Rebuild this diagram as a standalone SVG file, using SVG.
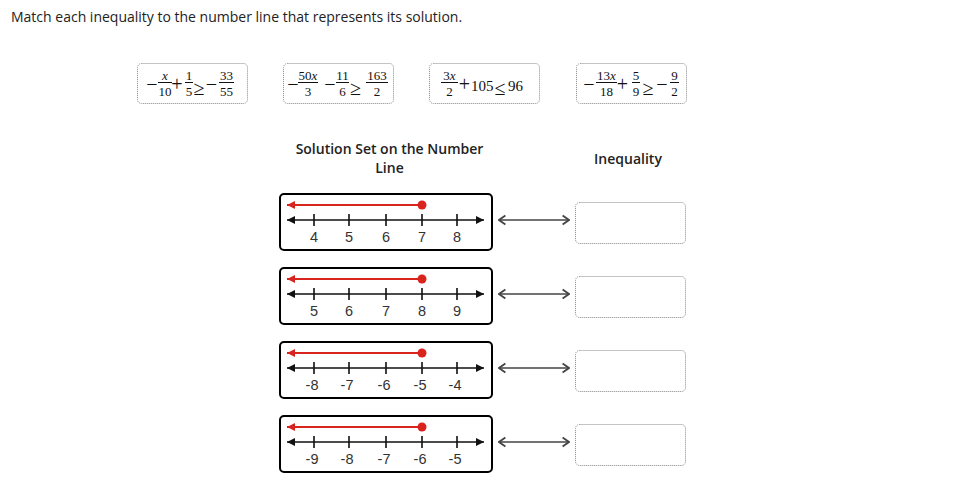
<svg xmlns="http://www.w3.org/2000/svg" width="965" height="491" viewBox="0 0 965 491">
<style>
.t{font-family:"Open Sans","Liberation Sans",sans-serif;fill:#222}
.h{font-family:"Open Sans","Liberation Sans",sans-serif;font-weight:600;font-size:14px;fill:#222;text-anchor:middle}
.dot{fill:#fff;stroke:#888;stroke-width:1;stroke-dasharray:1 1}
.op{font-family:"Liberation Serif","DejaVu Serif",serif;font-size:20px;fill:#111;text-anchor:middle}
.rel{font-family:"Liberation Serif","DejaVu Serif",serif;font-size:20px;fill:#111;text-anchor:middle}
.n{font-family:"Liberation Serif",serif;font-size:15px;fill:#111}
.fr{font-family:"Liberation Serif",serif;font-size:13px;fill:#111;text-anchor:middle}
.v{font-style:italic}
.bar{stroke:#111;stroke-width:1}
.nlbox{fill:#fff;stroke:#000;stroke-width:2}
.axis{stroke:#111;stroke-width:1.6}
.tick{stroke:#111;stroke-width:1.6}
.sol{stroke:#d9231d;stroke-width:2}
.lab{font-family:"Liberation Sans",sans-serif;font-size:14.5px;fill:#333;text-anchor:middle}
.conn{stroke:#444;stroke-width:1.6;fill:none}
</style>
<defs>
<marker id="ab" viewBox="0 0 10 10" refX="10" refY="5" markerWidth="8" markerHeight="8" markerUnits="userSpaceOnUse" orient="auto-start-reverse"><path d="M0,0 L10,5 L0,10 z" fill="#111"/></marker>
<marker id="ar" viewBox="0 0 10 10" refX="10" refY="5" markerWidth="8" markerHeight="8" markerUnits="userSpaceOnUse" orient="auto-start-reverse"><path d="M0,0 L10,5 L0,10 z" fill="#d9231d"/></marker>
<marker id="chev" viewBox="0 0 10 14" refX="9" refY="7" markerWidth="8" markerHeight="12" markerUnits="userSpaceOnUse" orient="auto-start-reverse"><path d="M1,1.5 L9,7 L1,12.5" fill="none" stroke="#444" stroke-width="2.2"/></marker>
</defs>
<rect width="965" height="491" fill="#fff"/>

<text class="t" x="11" y="22" font-size="14">Match each inequality to the number line that represents its solution.</text>

<!-- inequality cards -->
<g id="ineq1">
<rect class="dot" x="137.5" y="63.5" width="110" height="40" rx="4"/>
<text class="op" x="152" y="90.5">−</text>
<text class="fr" x="165" y="80"><tspan class="v">x</tspan></text><line class="bar" x1="158" y1="82.5" x2="172" y2="82.5"/><text class="fr" x="165" y="95.5">10</text>
<text class="op" x="177" y="90.5">+</text>
<text class="fr" x="189" y="80">1</text><line class="bar" x1="185" y1="82.5" x2="193" y2="82.5"/><text class="fr" x="189" y="95.5">5</text>
<text class="rel" x="199" y="95">≥</text>
<text class="op" x="211.5" y="90.5">−</text>
<text class="fr" x="226.5" y="80">33</text><line class="bar" x1="219" y1="82.5" x2="234" y2="82.5"/><text class="fr" x="226.5" y="95.5">55</text>
</g>

<g id="ineq2">
<rect class="dot" x="283.5" y="63.5" width="110" height="40" rx="4"/>
<text class="op" x="293" y="90.5">−</text>
<text class="fr" x="308" y="80">50<tspan class="v">x</tspan></text><line class="bar" x1="298" y1="82.5" x2="318" y2="82.5"/><text class="fr" x="308" y="95.5">3</text>
<text class="op" x="330" y="90.5">−</text>
<text class="fr" x="342.5" y="80">11</text><line class="bar" x1="336" y1="82.5" x2="349" y2="82.5"/><text class="fr" x="342.5" y="95.5">6</text>
<text class="rel" x="355.5" y="95">≥</text>
<text class="fr" x="377" y="80">163</text><line class="bar" x1="366" y1="82.5" x2="388" y2="82.5"/><text class="fr" x="377" y="95.5">2</text>
</g>

<g id="ineq3">
<rect class="dot" x="429.5" y="63.5" width="110" height="40" rx="4"/>
<text class="fr" x="449.5" y="80">3<tspan class="v">x</tspan></text><line class="bar" x1="441" y1="82.5" x2="458" y2="82.5"/><text class="fr" x="449.5" y="95.5">2</text>
<text class="op" x="464.5" y="90.5">+</text>
<text class="n" x="471" y="90.5">105</text>
<text class="rel" x="500" y="95">≤</text>
<text class="n" x="508" y="90.5">96</text>
</g>

<g id="ineq4">
<rect class="dot" x="576.5" y="63.5" width="110" height="40" rx="4"/>
<text class="op" x="589" y="90.5">−</text>
<text class="fr" x="606.5" y="80">13<tspan class="v">x</tspan></text><line class="bar" x1="596" y1="82.5" x2="617" y2="82.5"/><text class="fr" x="606.5" y="95.5">18</text>
<text class="op" x="622.5" y="90.5">+</text>
<text class="fr" x="636" y="80">5</text><line class="bar" x1="632" y1="82.5" x2="640" y2="82.5"/><text class="fr" x="636" y="95.5">9</text>
<text class="rel" x="648" y="95">≥</text>
<text class="op" x="662" y="90.5">−</text>
<text class="fr" x="674.5" y="80">9</text><line class="bar" x1="670" y1="82.5" x2="679" y2="82.5"/><text class="fr" x="674.5" y="95.5">2</text>
</g>

<!-- headers -->
<text class="h" x="389.5" y="154">Solution Set on the Number</text>
<text class="h" x="389.5" y="173">Line</text>
<text class="h" x="628" y="164">Inequality</text>

<!-- number lines -->
<g id="numline1">
<rect class="nlbox" x="280" y="194" width="212" height="56" rx="4"/>
<line class="sol" x1="287" y1="205" x2="422" y2="205" marker-start="url(#ar)"/>
<circle cx="422" cy="205" r="4.5" fill="#d9231d"/>
<line class="axis" x1="287" y1="220" x2="484" y2="220" marker-start="url(#ab)" marker-end="url(#ab)"/>
<path class="tick" d="M314,214V226M349,214V226M386,214V226M422,214V226M457,214V226"/>
<text class="lab" x="314" y="242">4</text><text class="lab" x="349" y="242">5</text><text class="lab" x="386" y="242">6</text><text class="lab" x="422" y="242">7</text><text class="lab" x="457" y="242">8</text>
</g>

<g id="numline2">
<rect class="nlbox" x="280" y="268" width="212" height="56" rx="4"/>
<line class="sol" x1="287" y1="279" x2="422" y2="279" marker-start="url(#ar)"/>
<circle cx="422" cy="279" r="4.5" fill="#d9231d"/>
<line class="axis" x1="287" y1="294" x2="484" y2="294" marker-start="url(#ab)" marker-end="url(#ab)"/>
<path class="tick" d="M314,288V300M349,288V300M386,288V300M422,288V300M457,288V300"/>
<text class="lab" x="314" y="316">5</text><text class="lab" x="349" y="316">6</text><text class="lab" x="386" y="316">7</text><text class="lab" x="422" y="316">8</text><text class="lab" x="457" y="316">9</text>
</g>

<g id="numline3">
<rect class="nlbox" x="280" y="342" width="212" height="56" rx="4"/>
<line class="sol" x1="287" y1="353" x2="422" y2="353" marker-start="url(#ar)"/>
<circle cx="422" cy="353" r="4.5" fill="#d9231d"/>
<line class="axis" x1="287" y1="368" x2="484" y2="368" marker-start="url(#ab)" marker-end="url(#ab)"/>
<path class="tick" d="M314,362V374M349,362V374M386,362V374M422,362V374M457,362V374"/>
<text class="lab" x="312" y="390">-8</text><text class="lab" x="347" y="390">-7</text><text class="lab" x="384" y="390">-6</text><text class="lab" x="420" y="390">-5</text><text class="lab" x="455" y="390">-4</text>
</g>

<g id="numline4">
<rect class="nlbox" x="280" y="416" width="212" height="56" rx="4"/>
<line class="sol" x1="287" y1="427" x2="422" y2="427" marker-start="url(#ar)"/>
<circle cx="422" cy="427" r="4.5" fill="#d9231d"/>
<line class="axis" x1="287" y1="442" x2="484" y2="442" marker-start="url(#ab)" marker-end="url(#ab)"/>
<path class="tick" d="M314,436V448M349,436V448M386,436V448M422,436V448M457,436V448"/>
<text class="lab" x="312" y="464">-9</text><text class="lab" x="347" y="464">-8</text><text class="lab" x="384" y="464">-7</text><text class="lab" x="420" y="464">-6</text><text class="lab" x="455" y="464">-5</text>
</g>

<!-- answer slots -->
<g id="slot1"><rect class="dot" x="575.5" y="202.5" width="110" height="41" rx="4"/></g>
<g id="slot2"><rect class="dot" x="575.5" y="276.5" width="110" height="41" rx="4"/></g>
<g id="slot3"><rect class="dot" x="575.5" y="350.5" width="110" height="41" rx="4"/></g>
<g id="slot4"><rect class="dot" x="575.5" y="424.5" width="110" height="41" rx="4"/></g>

<g id="connectors">
<line class="conn" x1="499" y1="220" x2="569" y2="220" marker-start="url(#chev)" marker-end="url(#chev)"/>
<line class="conn" x1="499" y1="294" x2="569" y2="294" marker-start="url(#chev)" marker-end="url(#chev)"/>
<line class="conn" x1="499" y1="368" x2="569" y2="368" marker-start="url(#chev)" marker-end="url(#chev)"/>
<line class="conn" x1="499" y1="442" x2="569" y2="442" marker-start="url(#chev)" marker-end="url(#chev)"/>
</g>
</svg>
